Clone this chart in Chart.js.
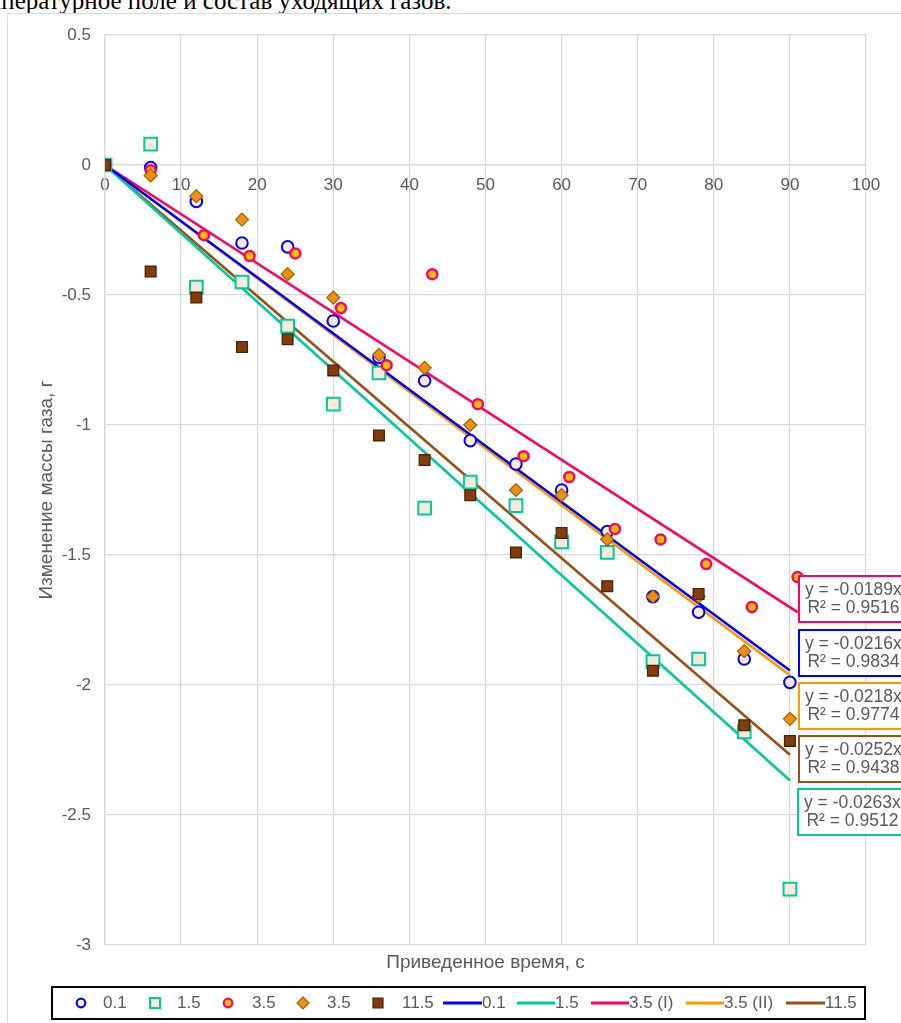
<!DOCTYPE html>
<html>
<head>
<meta charset="utf-8">
<script src="https://cdn.jsdelivr.net/npm/chart.js@4.4.1/dist/chart.umd.min.js"></script>
<style>
    body {
        margin: 0;
        width: 901px;
        height: 1023px;
        overflow: hidden;
        background: #fff;
        position: relative;
    }
    #caption {
        position: absolute;
        top: -13px;
        left: -40px;
        font-family: "Liberation Serif", "Times New Roman", serif;
        font-size: 25px;
        line-height: 28px;
        white-space: nowrap;
        color: #000;
    }
    #frame {
        position: absolute;
        left: 7px;
        top: 13px;
        width: 1000px;
        height: 1100px;
        border: 1.5px solid #d9d9d9;
    }
    #chart {
        position: absolute;
        left: 0;
        top: 0;
    }
</style>
</head>
<body>
<div id="caption"><span id="cut">Тем</span>пературное поле и состав уходящих газов.</div>
<div id="frame"></div>
<canvas id="chart" width="901" height="1023"></canvas>

<script>
// time values (s)
const xTimes = [0, 6, 12, 18, 24, 30, 36, 42, 48, 54, 60, 66, 72, 78, 84, 90];
const xTimesShifted = [0, 6, 13, 19, 25, 31, 37, 43, 49, 55, 61, 67, 73, 79, 85, 91];

// gas mass change (g)
const y01 = [0, -0.01, -0.14, -0.30, -0.315, -0.60, -0.74, -0.83, -1.06, -1.15, -1.25, -1.41, -1.66, -1.72, -1.90, -1.99];
const y15 = [0, 0.08, -0.47, -0.45, -0.62, -0.92, -0.80, -1.32, -1.22, -1.31, -1.45, -1.49, -1.91, -1.90, -2.18, -2.785];
const y35a = [0, -0.02, -0.27, -0.35, -0.34, -0.55, -0.77, -0.42, -0.92, -1.12, -1.20, -1.40, -1.44, -1.535, -1.70, -1.585];
const y35b = [0, -0.04, -0.12, -0.21, -0.42, -0.51, -0.73, -0.78, -1.00, -1.25, -1.27, -1.44, -1.66, -1.66, -1.87, -2.13];
const y115 = [0, -0.41, -0.51, -0.70, -0.67, -0.79, -1.04, -1.135, -1.27, -1.49, -1.415, -1.62, -1.945, -1.65, -2.155, -2.215];

// linear trend lines through origin
const trendNames = ["0.1", "1.5", "3.5 (I)", "3.5 (II)", "11.5"];
const trendEndX = [90, 90, 91, 90, 90];
const trendEndY = [-1.944, -2.367, -1.72, -1.962, -2.268];
const trendEq = ["y = -0.0216x", "y = -0.0263x", "y = -0.0189x", "y = -0.0218x", "y = -0.0252x"];
const trendR2 = ["R² = 0.9834", "R² = 0.9512", "R² = 0.9516", "R² = 0.9774", "R² = 0.9438"];
const trendColors = ["#0000ff", "#00cc99", "#ff0066", "#ff9900", "#9a4f16"];

const xTickLabels = ["0", "10", "20", "30", "40", "50", "60", "70", "80", "90", "100"];

const textColor = "#595959";
const gridColor = "#d9d9d9";
const fontFamily = "'Liberation Sans', Arial, sans-serif";

function pts(xs, ys) {
    return xs.map((x, i) => ({ x: x, y: ys[i] }));
}

const scatterSets = [
    { label: "0.1", data: pts(xTimes, y01), pointStyle: "circle", pointRadius: 5.8, borderWidth: 2,
      borderColor: "#0000ff", backgroundColor: "#fbe9dd", order: 5 },
    { label: "1.5", data: pts(xTimes, y15), pointStyle: "rect", pointRadius: 9, borderWidth: 2,
      borderColor: "#00cc99", backgroundColor: "#fbe9dd", order: 4 },
    { label: "3.5", data: pts(xTimesShifted, y35a), pointStyle: "circle", pointRadius: 5, borderWidth: 2.5,
      borderColor: "#ff0066", backgroundColor: "#ffc000", order: 3 },
    { label: "3.5", data: pts(xTimes, y35b), pointStyle: "rectRot", pointRadius: 6.5, borderWidth: 1.2,
      borderColor: "#99600a", backgroundColor: "#f0900a", order: 2 },
    { label: "11.5", data: pts(xTimes, y115), pointStyle: "rect", pointRadius: 7.6, borderWidth: 1.3,
      borderColor: "#4a2206", backgroundColor: "#843c0c", order: 1 }
];

const trendSets = trendNames.map((name, i) => ({
    label: name,
    data: [{ x: 0, y: 0 }, { x: trendEndX[i], y: trendEndY[i] }],
    showLine: true,
    borderColor: trendColors[i],
    borderWidth: 2.6,
    pointRadius: 0,
    order: 6 + i
}));

// trend label boxes: anchor in chart units (top-left)
const boxAnchors = [
    { idx: 2, x: 91.15, y: -1.582 },
    { idx: 0, x: 91.15, y: -1.788 },
    { idx: 3, x: 91.15, y: -1.992 },
    { idx: 4, x: 91.15, y: -2.196 },
    { idx: 1, x: 91.0, y: -2.400 }
];

const labelBoxes = {
    id: "labelBoxes",
    afterDatasetsDraw(chart) {
        const ctx = chart.ctx;
        const xs = chart.scales.x, ys = chart.scales.y;
        ctx.save();
        ctx.font = "17.5px " + fontFamily;
        ctx.textBaseline = "middle";
        boxAnchors.forEach(b => {
            const left = Math.round(xs.getPixelForValue(b.x));
            const top = Math.round(ys.getPixelForValue(b.y));
            ctx.fillStyle = "#fff";
            ctx.fillRect(left, top, 130, 46);
            ctx.strokeStyle = trendColors[b.idx];
            ctx.lineWidth = 2;
            ctx.strokeRect(left, top, 130, 46);
            ctx.fillStyle = textColor;
            ctx.textAlign = "left";
            ctx.fillText(trendEq[b.idx], left + 6, top + 14);
            ctx.textAlign = "center";
            ctx.fillText(trendR2[b.idx], left + 6 + ctx.measureText(trendEq[b.idx]).width / 2, top + 32);
        });
        ctx.restore();
    }
};

// legend entries with fixed layout along the bottom
const legendItems = [
    { kind: "circle", ds: 0, mx: 81, tx: 103 },
    { kind: "square", ds: 1, mx: 155, tx: 177 },
    { kind: "circle", ds: 2, mx: 228, tx: 252 },
    { kind: "diamond", ds: 3, mx: 303, tx: 327 },
    { kind: "square", ds: 4, mx: 378, tx: 402 },
    { kind: "line", ds: 5, mx: 443, tx: 482 },
    { kind: "line", ds: 6, mx: 517, tx: 555 },
    { kind: "line", ds: 7, mx: 591, tx: 629 },
    { kind: "line", ds: 8, mx: 686, tx: 724 },
    { kind: "line", ds: 9, mx: 786, tx: 825 }
];

const bottomDecor = {
    id: "bottomDecor",
    afterDraw(chart) {
        const ctx = chart.ctx;
        const area = chart.chartArea;
        ctx.save();
        // x axis title
        ctx.font = "19px " + fontFamily;
        ctx.fillStyle = textColor;
        ctx.textAlign = "center";
        ctx.textBaseline = "middle";
        ctx.fillText("Приведенное время, с", (area.left + area.right) / 2, 963);

        // legend box
        const ly = 1003;
        ctx.strokeStyle = "#000";
        ctx.lineWidth = 2;
        ctx.strokeRect(52, 987, 813, 32);
        ctx.font = "17px " + fontFamily;
        ctx.textAlign = "left";
        legendItems.forEach(it => {
            const ds = chart.data.datasets[it.ds];
            ctx.fillStyle = ds.backgroundColor;
            ctx.strokeStyle = ds.borderColor;
            ctx.beginPath();
            if (it.kind === "circle") {
                ctx.lineWidth = 2.2;
                ctx.fillStyle = it.ds === 0 ? "#fff" : ds.backgroundColor;
                ctx.arc(it.mx, ly, 4.3, 0, Math.PI * 2);
                ctx.fill();
                ctx.stroke();
            } else if (it.kind === "square") {
                ctx.lineWidth = it.ds === 1 ? 2 : 1.2;
                ctx.rect(it.mx - 5, ly - 5, 10, 10);
                ctx.fill();
                ctx.stroke();
            } else if (it.kind === "diamond") {
                ctx.lineWidth = 1.2;
                ctx.moveTo(it.mx, ly - 6);
                ctx.lineTo(it.mx + 6, ly);
                ctx.lineTo(it.mx, ly + 6);
                ctx.lineTo(it.mx - 6, ly);
                ctx.closePath();
                ctx.fill();
                ctx.stroke();
            } else {
                ctx.lineWidth = 3;
                ctx.moveTo(it.mx, ly);
                ctx.lineTo(it.tx, ly);
                ctx.stroke();
            }
            ctx.fillStyle = textColor;
            ctx.fillText(ds.label, it.tx, ly);
        });
        ctx.restore();
    }
};

const ctx = document.getElementById("chart").getContext("2d");

new Chart(ctx, {
    type: "scatter",
    data: { datasets: scatterSets.concat(trendSets) },
    options: {
        responsive: false,
        animation: false,
        layout: { padding: { top: 35, right: 35, bottom: 78, left: 0 } },
        plugins: {
            legend: { display: false },
            tooltip: { enabled: false }
        },
        scales: {
            x: {
                type: "linear",
                position: { y: 0 },
                min: 0,
                max: 100,
                grid: { color: gridColor, lineWidth: 1.3, drawTicks: false },
                border: { color: gridColor, width: 1.3 },
                ticks: {
                    stepSize: 10,
                    padding: 10,
                    maxRotation: 0,
                    color: textColor,
                    font: { size: 17, family: fontFamily },
                    callback: (v, i) => xTickLabels[i]
                }
            },
            y: {
                min: -3,
                max: 0.5,
                afterFit: s => { s.width = 105; },
                grid: { color: gridColor, lineWidth: 1.3, drawTicks: false },
                border: { color: gridColor, width: 1.3 },
                ticks: {
                    stepSize: 0.5,
                    padding: 14,
                    color: textColor,
                    font: { size: 17, family: fontFamily },
                    callback: v => String(v)
                },
                title: {
                    display: true,
                    text: "Изменение массы газа, г",
                    color: textColor,
                    font: { size: 19, family: fontFamily },
                    padding: { top: 35, bottom: 0 }
                }
            }
        }
    },
    plugins: [labelBoxes, bottomDecor]
});

// hide the clipped start of the caption line
const cut = document.getElementById("cut");
document.getElementById("caption").style.left = (1 - cut.offsetWidth) + "px";
</script>
</body>
</html>
